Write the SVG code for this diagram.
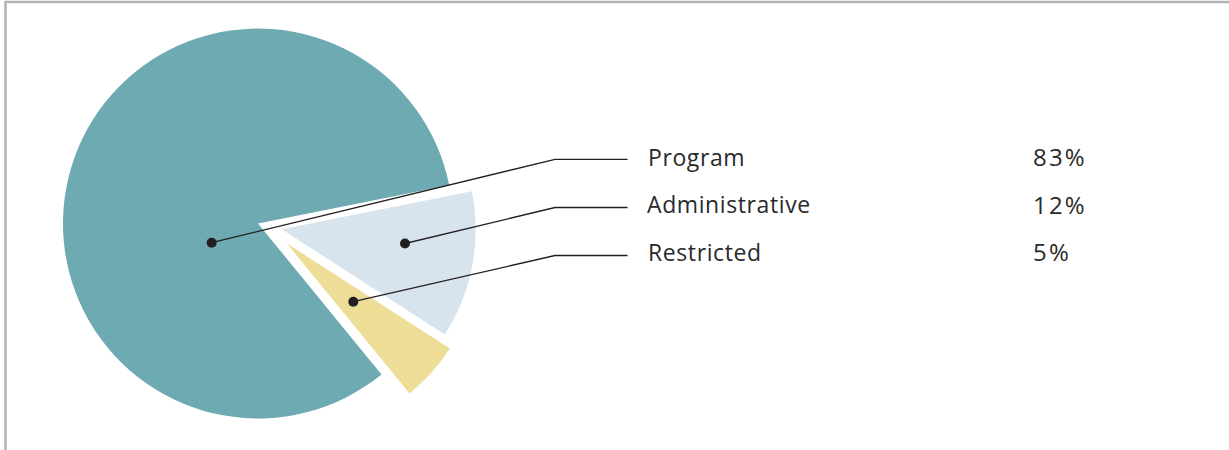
<svg xmlns="http://www.w3.org/2000/svg" width="1229" height="450" viewBox="0 0 1229 450">
  <style>
    .lbl { font-family: "Open Sans", "Liberation Sans", sans-serif; font-size: 23px; fill: #2a2a2a; letter-spacing: 0.6px; }
    .pct { font-family: "Open Sans", "Liberation Sans", sans-serif; font-size: 24px; fill: #2a2a2a; letter-spacing: 2.2px; }
    .leader { fill: none; stroke: #231f20; stroke-width: 1.3; }
    .dot { fill: #231f20; }
  </style>
  <rect x="0" y="0" width="1229" height="450" fill="#ffffff"/>
  <path d="M5.5,450 V2 H1229" fill="none" stroke="#b3b3b6" stroke-width="2.5"/>

  <g id="program">
    <path d="M258,223.5 L381.5,374.4 A195,195 0 1,1 449.2,185.3 Z" fill="#6eaab2"/>
    <text class="lbl" x="648" y="165.5">Program</text>
    <text class="pct" x="1033" y="166">83%</text>
  </g>
  <g id="administrative">
    <path d="M281.7,229.3 L471.9,191.3 A194,194 0 0,1 444.8,334.4 Z" fill="#d8e4ed"/>
    <text class="lbl" x="647" y="213">Administrative</text>
    <text class="pct" x="1033" y="213.5">12%</text>
  </g>
  <g id="restricted">
    <path d="M286.7,243.3 L449.8,348.4 A194,194 0 0,1 409.6,393.4 Z" fill="#eedd97"/>
    <text class="lbl" x="648" y="260.5">Restricted</text>
    <text class="pct" x="1033" y="261">5%</text>
  </g>

  <g id="connectors">
    <polyline class="leader" points="211.7,242.7 555,159.3 627.5,159.3"/>
    <polyline class="leader" points="405,243.5 555,207.5 627.5,207.5"/>
    <polyline class="leader" points="353.3,301.7 555,255.5 627.5,255.5"/>
    <circle class="dot" cx="211.7" cy="242.7" r="5"/>
    <circle class="dot" cx="405" cy="243.5" r="5"/>
    <circle class="dot" cx="353.3" cy="301.7" r="5"/>
  </g>
</svg>
